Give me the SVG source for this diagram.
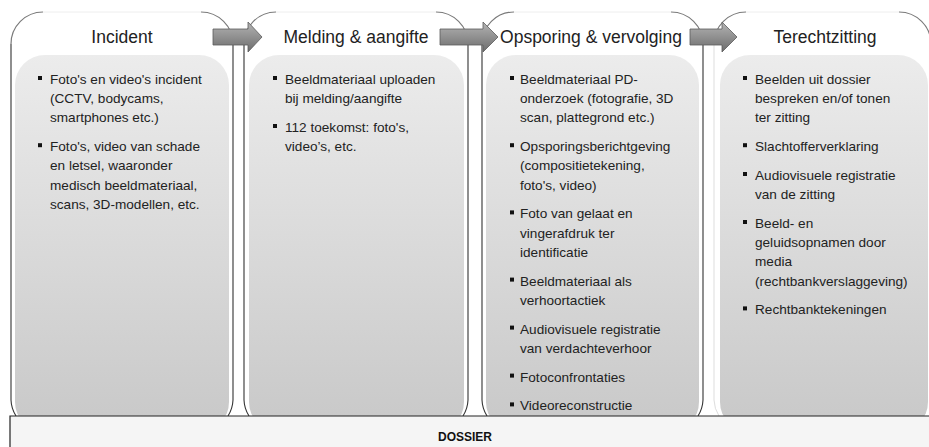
<svg xmlns="http://www.w3.org/2000/svg" width="929" height="447" viewBox="0 0 929 447">
<style>
.hdr{font-family:"Liberation Sans",Arial,sans-serif;font-size:17.5px;fill:#222;text-anchor:middle}
.b{font-family:"Liberation Sans",Arial,sans-serif;font-size:13.6px;fill:#222}
.side{fill:none;stroke:#333;stroke-width:1.1}
.sidefaint{fill:none;stroke:#ddd;stroke-width:1}
.corner{fill:none;stroke:#7a7a7a;stroke-width:1.2}
.topline{fill:none;stroke:#eee;stroke-width:1}
.outer{fill:#fff}
.inner{fill:url(#ig)}
.arrow{fill:url(#ag);stroke:#5a5a5a;stroke-width:0.8}
.bul{fill:#111}
.dos{font-family:"Liberation Sans",Arial,sans-serif;font-size:12px;font-weight:bold;fill:#111;text-anchor:middle}
</style>
<defs>
<linearGradient id="ig" x1="0" y1="0" x2="0" y2="1">
<stop offset="0" stop-color="#ececec"/>
<stop offset="1" stop-color="#c8c8c8"/>
</linearGradient>
<linearGradient id="ag" x1="0" y1="0" x2="0" y2="1">
<stop offset="0" stop-color="#b4b4b4"/>
<stop offset="1" stop-color="#6c6c6c"/>
</linearGradient>
</defs>
<rect width="929" height="447" fill="#fff"/>

<g id="col-incident">
<rect class="outer" x="11" y="12" width="222" height="420" rx="32"/>
<path class="topline" d="M43,12 H201"/>
<path class="corner" d="M11,44 A32,32 0 0 1 43,12"/>
<path class="corner" d="M201,12 A32,32 0 0 1 233,44"/>
<path class="side" d="M11,44 V400 A32,32 0 0 0 16,416"/>
<path class="side" d="M233,44 V400 A32,32 0 0 1 228,416"/>
<rect class="inner" x="15" y="55" width="214" height="377" rx="30"/>
<text class="hdr" x="122" y="43">Incident</text>
<rect class="bul" x="38" y="76" width="4" height="4"/>
<rect class="bul" x="38" y="143.2" width="4" height="4"/>
<text class="b"><tspan x="50" y="84">Foto's en video's incident</tspan><tspan x="50" y="103.2">(CCTV, bodycams,</tspan><tspan x="50" y="122.4">smartphones etc.)</tspan></text>
<text class="b"><tspan x="50" y="151.2">Foto's, video van schade</tspan><tspan x="50" y="170.4">en letsel, waaronder</tspan><tspan x="50" y="189.6">medisch beeldmateriaal,</tspan><tspan x="50" y="208.8">scans, 3D-modellen, etc.</tspan></text>
</g>

<g id="col-melding">
<rect class="outer" x="244" y="12" width="224" height="420" rx="32"/>
<path class="topline" d="M276,12 H436"/>
<path class="corner" d="M244,44 A32,32 0 0 1 276,12"/>
<path class="corner" d="M436,12 A32,32 0 0 1 468,44"/>
<path class="side" d="M244,44 V400 A32,32 0 0 0 249,416"/>
<path class="side" d="M468,44 V400 A32,32 0 0 1 463,416"/>
<rect class="inner" x="249" y="55" width="215" height="377" rx="30"/>
<text class="hdr" x="356" y="43">Melding &amp; aangifte</text>
<rect class="bul" x="273" y="76" width="4" height="4"/>
<rect class="bul" x="273" y="124" width="4" height="4"/>
<text class="b"><tspan x="285" y="84">Beeldmateriaal uploaden</tspan><tspan x="285" y="103.2">bij melding/aangifte</tspan></text>
<text class="b"><tspan x="285" y="132">112 toekomst: foto's,</tspan><tspan x="285" y="151.2">video’s, etc.</tspan></text>
</g>

<g id="col-opsporing">
<rect class="outer" x="482" y="12" width="221" height="420" rx="32"/>
<path class="topline" d="M514,12 H671"/>
<path class="corner" d="M482,44 A32,32 0 0 1 514,12"/>
<path class="corner" d="M671,12 A32,32 0 0 1 703,44"/>
<path class="side" d="M482,44 V400 A32,32 0 0 0 487,416"/>
<path class="side" d="M703,44 V400 A32,32 0 0 1 698,416"/>
<rect class="inner" x="486" y="55" width="213" height="377" rx="30"/>
<text class="hdr" x="591" y="43">Opsporing &amp; vervolging</text>
<rect class="bul" x="510" y="76" width="4" height="4"/>
<rect class="bul" x="510" y="143.2" width="4" height="4"/>
<rect class="bul" x="510" y="210.4" width="4" height="4"/>
<rect class="bul" x="510" y="277.6" width="4" height="4"/>
<rect class="bul" x="510" y="325.6" width="4" height="4"/>
<rect class="bul" x="510" y="373.6" width="4" height="4"/>
<rect class="bul" x="510" y="402.4" width="4" height="4"/>
<text class="b"><tspan x="520" y="84">Beeldmateriaal PD-</tspan><tspan x="520" y="103.2">onderzoek (fotografie, 3D</tspan><tspan x="520" y="122.4">scan, plattegrond etc.)</tspan></text>
<text class="b"><tspan x="520" y="151.2">Opsporingsberichtgeving</tspan><tspan x="520" y="170.4">(compositietekening,</tspan><tspan x="520" y="189.6">foto's, video)</tspan></text>
<text class="b"><tspan x="520" y="218.4">Foto van gelaat en</tspan><tspan x="520" y="237.6">vingerafdruk ter</tspan><tspan x="520" y="256.8">identificatie</tspan></text>
<text class="b"><tspan x="520" y="285.6">Beeldmateriaal als</tspan><tspan x="520" y="304.8">verhoortactiek</tspan></text>
<text class="b"><tspan x="520" y="333.6">Audiovisuele registratie</tspan><tspan x="520" y="352.8">van verdachteverhoor</tspan></text>
<text class="b" x="520" y="381.6">Fotoconfrontaties</text>
<text class="b" x="520" y="410.4">Videoreconstructie</text>
</g>

<g id="col-terechtzitting">
<rect class="outer" x="714" y="12" width="217" height="420" rx="32"/>
<path class="topline" d="M746,12 H899"/>
<path class="corner" d="M714,44 A32,32 0 0 1 746,12"/>
<path class="corner" d="M899,12 A32,32 0 0 1 931,44"/>
<path class="sidefaint" d="M714,44 V400 A32,32 0 0 0 719,416"/>
<rect class="inner" x="720" y="55" width="208" height="377" rx="30"/>
<text class="hdr" x="825" y="43">Terechtzitting</text>
<rect class="bul" x="743" y="76" width="4" height="4"/>
<rect class="bul" x="743" y="143.2" width="4" height="4"/>
<rect class="bul" x="743" y="172" width="4" height="4"/>
<rect class="bul" x="743" y="220" width="4" height="4"/>
<rect class="bul" x="743" y="306.4" width="4" height="4"/>
<text class="b"><tspan x="755" y="84">Beelden uit dossier</tspan><tspan x="755" y="103.2">bespreken en/of tonen</tspan><tspan x="755" y="122.4">ter zitting</tspan></text>
<text class="b" x="755" y="151.2">Slachtofferverklaring</text>
<text class="b"><tspan x="755" y="180">Audiovisuele registratie</tspan><tspan x="755" y="199.2">van de zitting</tspan></text>
<text class="b"><tspan x="755" y="228">Beeld- en</tspan><tspan x="755" y="247.2">geluidsopnamen door</tspan><tspan x="755" y="266.4">media</tspan><tspan x="755" y="285.6">(rechtbankverslaggeving)</tspan></text>
<text class="b" x="755" y="314.4">Rechtbanktekeningen</text>
</g>

<g id="connectors">
<path class="arrow" d="M213,29 H248 V22 L262,37 L248,52 V45 H213 Z"/>
<path class="arrow" d="M440,29 H483 V22 L498,37 L483,52 V45 H440 Z"/>
<path class="arrow" d="M690,29 H722 V22 L737,37 L722,52 V45 H690 Z"/>
</g>

<g id="dossier">
<rect x="10" y="416" width="925" height="40" fill="#f5f5f5"/>
<path d="M10,447 V416 H929" fill="none" stroke="#222" stroke-width="1.2"/>
<text class="dos" x="465" y="441">DOSSIER</text>
</g>
</svg>
